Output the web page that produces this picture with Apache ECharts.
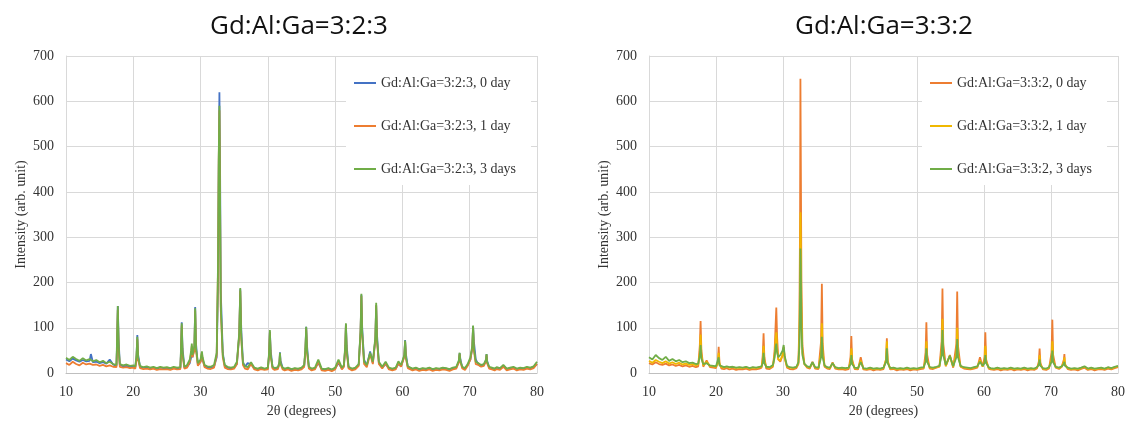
<!DOCTYPE html>
<html>
<head>
<meta charset="utf-8">
<script src="https://cdn.jsdelivr.net/npm/echarts@6/dist/echarts.min.js"></script>
<style>
html,body{margin:0;padding:0;background:#fff;}
#c{width:1128px;height:423px;}
</style>
</head>
<body>
<div id="c"></div>
<script>
// ---------- Left chart: Gd:Al:Ga=3:2:3 ----------
const LX = [
  10, 10.5, 11, 11.5, 12, 12.5, 13, 13.5, 13.7, 14,
  14.5, 15, 15.5, 16, 16.5, 17, 17.5,
  17.58, 17.7, 17.82, 18, 18.5, 19, 19.5, 20, 20.3,
  20.48, 20.6, 20.72, 21, 21.5, 22, 22.5, 23, 23.5, 24,
  24.5, 25, 25.5, 26, 26.5, 27,
  27.08, 27.2, 27.32, 27.6, 28, 28.4, 28.6, 28.7, 28.8,
  29.08, 29.2, 29.32, 29.6, 30, 30.1, 30.2, 30.3, 30.6, 31,
  31.5, 32, 32.4, 32.6, 32.7, 32.8, 32.9, 33, 33.3, 33.6,
  34, 34.5, 35, 35.4, 35.75, 35.9, 36.05, 36.3, 36.6, 37,
  37.5, 38, 38.5, 39, 39.5, 40, 40.18, 40.3, 40.42, 40.7,
  41, 41.5, 41.72, 41.8, 41.88, 42.2, 42.5, 43, 43.5, 44,
  44.5, 45, 45.4, 45.58, 45.7, 45.82, 46.1, 46.5, 47, 47.5,
  48, 48.5, 49, 49.5, 50, 50.5, 51, 51.3, 51.5, 51.6,
  51.72, 52, 52.5, 53, 53.5, 53.78, 53.9, 54.02, 54.3, 54.7,
  55.2, 55.6, 55.98, 56.1, 56.22, 56.5, 57, 57.5, 58, 58.5,
  59, 59.4, 59.8, 60.28, 60.4, 60.52, 60.8, 61, 61.5, 62,
  62.5, 63, 63.5, 64, 64.5, 65, 65.5, 66, 66.5, 67,
  67.5, 68, 68.38, 68.5, 68.62, 68.9, 69.3, 69.7, 70.1, 70.38,
  70.5, 70.62, 70.9, 71.3, 71.7, 72.1, 72.42, 72.5, 72.58, 72.9,
  73.3, 73.7, 74, 74.5, 75, 75.5, 76, 76.5, 77, 77.5,
  78, 78.5, 79, 79.5, 80
];
const L_DAY0 = [
  30, 26, 32, 28, 25, 29, 26, 27, 42, 24,
  25, 22, 24, 21, 30, 19, 16,
  60, 148, 75, 18, 15, 16, 14, 15, 13,
  35, 84, 40, 14, 12, 13, 11, 12, 10, 12,
  11, 11, 10, 12, 10, 12,
  45, 112, 55, 12, 14, 22, 35, 45, 35,
  55, 146, 65, 18, 25, 32, 38, 30, 15, 12,
  12, 14, 35, 200, 450, 620, 450, 180, 45, 15,
  12, 10, 12, 20, 85, 185, 95, 25, 14, 22,
  20, 10, 9, 11, 9, 10, 40, 92, 50, 12,
  10, 11, 22, 46, 28, 11, 9, 10, 8, 10,
  9, 10, 15, 50, 102, 60, 12, 9, 10, 22,
  9, 8, 10, 7, 10, 22, 10, 15, 55, 108,
  60, 12, 9, 10, 18, 90, 173, 100, 30, 16,
  48, 22, 75, 150, 85, 22, 12, 20, 10, 9,
  10, 20, 15, 38, 73, 42, 14, 10, 9, 11,
  8, 10, 9, 11, 8, 10, 9, 11, 10, 8,
  11, 12, 25, 44, 30, 12, 10, 18, 30, 55,
  104, 70, 30, 18, 15, 18, 28, 42, 28, 12,
  11, 9, 12, 10, 16, 9, 11, 12, 9, 11,
  10, 12, 11, 13, 20
];
const L_DAY1 = [
  22, 18, 25, 20, 17, 23, 19, 21, 20, 18,
  19, 16, 18, 15, 17, 14, 13,
  55, 140, 55, 14, 12, 13, 11, 12, 10,
  30, 75, 30, 11, 9, 10, 8, 10, 7, 9,
  8, 9, 7, 10, 8, 9,
  40, 105, 40, 10, 12, 25, 45, 60, 35,
  50, 138, 50, 16, 25, 35, 45, 30, 13, 10,
  9, 12, 40, 240, 470, 580, 370, 140, 35, 12,
  9, 8, 10, 20, 85, 182, 75, 18, 10, 8,
  20, 8, 6, 9, 7, 8, 40, 90, 38, 10,
  7, 9, 22, 42, 20, 8, 6, 8, 5, 7,
  6, 8, 14, 50, 98, 45, 10, 6, 8, 25,
  6, 5, 7, 4, 8, 26, 8, 14, 55, 105,
  45, 10, 6, 8, 16, 90, 170, 85, 20, 13,
  42, 20, 75, 150, 70, 20, 10, 22, 8, 6,
  8, 22, 14, 36, 70, 32, 11, 7, 6, 8,
  5, 7, 6, 8, 5, 7, 6, 8, 7, 5,
  8, 10, 24, 42, 24, 10, 7, 16, 30, 55,
  100, 50, 20, 18, 14, 16, 26, 40, 22, 10,
  8, 6, 9, 7, 14, 6, 8, 10, 6, 8,
  7, 10, 8, 11, 20
];
const L_DAY3 = [
  34, 29, 36, 31, 27, 33, 28, 31, 30, 26,
  29, 24, 27, 22, 25, 20, 18,
  70, 148, 60, 20, 17, 19, 16, 17, 15,
  40, 80, 35, 16, 13, 15, 12, 14, 11, 14,
  12, 13, 11, 14, 12, 13,
  50, 110, 45, 14, 18, 30, 50, 65, 40,
  60, 143, 55, 22, 30, 40, 48, 35, 18, 15,
  14, 18, 45, 250, 480, 590, 380, 150, 40, 18,
  14, 12, 14, 25, 90, 188, 80, 22, 15, 13,
  24, 12, 10, 13, 10, 12, 45, 95, 40, 14,
  11, 13, 25, 45, 22, 12, 10, 12, 9, 11,
  10, 12, 18, 55, 102, 50, 14, 10, 12, 30,
  10, 9, 11, 8, 12, 30, 12, 18, 60, 110,
  50, 14, 10, 12, 20, 95, 175, 90, 25, 18,
  45, 25, 80, 155, 75, 25, 14, 25, 12, 10,
  12, 26, 18, 40, 72, 35, 15, 11, 10, 12,
  9, 11, 10, 12, 9, 11, 10, 12, 11, 9,
  12, 14, 28, 45, 26, 14, 11, 20, 35, 60,
  105, 55, 25, 22, 18, 20, 30, 42, 25, 14,
  12, 10, 13, 11, 18, 10, 12, 14, 10, 12,
  11, 14, 12, 15, 25
];

// ---------- Right chart: Gd:Al:Ga=3:3:2 ----------
const RX = [
  10, 10.5, 11, 11.5, 12, 12.5, 13, 13.5, 14, 14.5,
  15, 15.5, 16, 16.5, 17, 17.35, 17.58, 17.7, 17.82, 18.1,
  18.6, 19.1, 19.6, 20.0, 20.28, 20.4, 20.52, 20.8, 21.2, 21.6,
  22, 22.5, 23, 23.5, 24, 24.5, 25, 25.5, 26, 26.5,
  26.8, 26.98, 27.1, 27.22, 27.5, 28, 28.5, 28.75, 28.88, 29.0,
  29.12, 29.3, 29.6, 29.95, 30.1, 30.25, 30.6, 31, 31.5, 32,
  32.3, 32.45, 32.55, 32.6, 32.65, 32.75, 32.9, 33.2, 33.6, 34,
  34.4, 34.8, 35.3, 35.68, 35.8, 35.92, 36.2, 36.6, 37, 37.4,
  37.8, 38.3, 38.8, 39.3, 39.8, 40.08, 40.2, 40.32, 40.7, 41.2,
  41.6, 42, 42.5, 43, 43.5, 44, 44.5, 45, 45.38, 45.5,
  45.62, 46, 46.5, 47, 47.5, 48, 48.5, 49, 49.5, 50,
  50.5, 51, 51.28, 51.4, 51.52, 51.9, 52.4, 52.9, 53.35, 53.68,
  53.8, 53.92, 54.3, 54.9, 55.4, 55.88, 56.0, 56.12, 56.5, 57,
  57.5, 58, 58.5, 59, 59.4, 59.8, 60.08, 60.2, 60.32, 60.7,
  61, 61.5, 62, 62.5, 63, 63.5, 64, 64.5, 65, 65.5,
  66, 66.5, 67, 67.5, 67.9, 68.18, 68.3, 68.42, 68.8, 69.3,
  69.7, 70.08, 70.2, 70.32, 70.7, 71.2, 71.6, 71.92, 72.0, 72.08,
  72.5, 73, 73.5, 74, 74.5, 75, 75.5, 76, 76.5, 77,
  77.5, 78, 78.5, 79, 79.5, 80
];
const R_DAY0 = [
  22, 19, 24, 20, 18, 21, 17, 19, 16, 18,
  15, 17, 14, 16, 13, 15, 60, 115, 50, 14,
  28, 13, 12, 11, 25, 58, 22, 10, 9, 11,
  8, 10, 7, 9, 8, 10, 7, 9, 8, 10,
  12, 40, 88, 35, 10, 9, 14, 50, 100, 145,
  80, 30, 25, 40, 58, 35, 12, 9, 8, 11,
  20, 120, 350, 650, 500, 200, 60, 20, 12, 10,
  25, 10, 9, 70, 197, 65, 14, 10, 9, 24,
  10, 8, 9, 7, 9, 35, 82, 30, 9, 8,
  35, 8, 7, 9, 6, 8, 7, 9, 30, 77,
  28, 8, 9, 6, 8, 7, 9, 6, 8, 7,
  9, 10, 45, 112, 40, 10, 9, 12, 14, 70,
  187, 65, 15, 40, 12, 65, 180, 60, 14, 10,
  9, 8, 10, 12, 35, 14, 35, 90, 30, 10,
  8, 7, 9, 6, 8, 7, 9, 6, 8, 7,
  9, 6, 8, 7, 10, 25, 54, 22, 8, 7,
  10, 45, 118, 40, 12, 9, 14, 30, 42, 20,
  9, 7, 8, 6, 9, 12, 7, 9, 6, 8,
  9, 7, 10, 8, 11, 13
];
const R_DAY1 = [
  27, 23, 29, 25, 22, 26, 21, 24, 20, 23,
  19, 21, 18, 20, 17, 19, 45, 85, 40, 17,
  25, 16, 15, 14, 22, 45, 20, 13, 12, 14,
  12, 13, 11, 12, 11, 13, 10, 12, 11, 13,
  14, 30, 60, 28, 13, 12, 16, 40, 70, 90,
  55, 30, 28, 40, 55, 32, 14, 12, 11, 13,
  22, 80, 220, 355, 300, 130, 45, 20, 14, 12,
  22, 12, 11, 45, 110, 45, 16, 12, 11, 22,
  12, 10, 11, 10, 11, 25, 55, 25, 11, 10,
  28, 10, 9, 11, 9, 10, 9, 11, 30, 70,
  25, 10, 11, 9, 10, 9, 11, 9, 10, 9,
  11, 12, 30, 70, 28, 12, 11, 13, 15, 50,
  120, 45, 16, 38, 14, 45, 100, 42, 15, 12,
  11, 10, 12, 14, 28, 15, 25, 60, 25, 12,
  10, 9, 11, 9, 10, 9, 11, 9, 10, 9,
  11, 9, 10, 9, 12, 20, 40, 18, 10, 9,
  12, 30, 70, 28, 13, 11, 14, 25, 35, 18,
  11, 9, 10, 9, 11, 14, 9, 11, 9, 10,
  11, 9, 12, 10, 13, 15
];
const R_DAY3 = [
  35, 30, 40, 33, 29, 36, 27, 31, 26, 29,
  24, 26, 22, 23, 20, 21, 38, 62, 32, 20,
  22, 17, 16, 15, 18, 35, 17, 14, 13, 15,
  13, 14, 12, 13, 12, 14, 11, 13, 12, 14,
  15, 22, 45, 22, 14, 13, 18, 35, 55, 65,
  45, 35, 40, 50, 62, 38, 16, 13, 12, 14,
  24, 60, 170, 275, 240, 100, 40, 20, 15, 13,
  24, 13, 12, 35, 80, 35, 17, 13, 12, 22,
  13, 11, 12, 11, 12, 20, 40, 20, 12, 11,
  24, 11, 10, 12, 10, 11, 10, 12, 25, 55,
  22, 11, 12, 10, 11, 10, 12, 10, 11, 10,
  12, 13, 25, 55, 25, 13, 12, 14, 16, 40,
  95, 40, 18, 38, 15, 35, 75, 35, 16, 13,
  12, 11, 13, 15, 25, 16, 22, 40, 22, 13,
  11, 10, 12, 10, 11, 10, 12, 10, 11, 10,
  12, 10, 11, 10, 13, 18, 30, 16, 11, 10,
  13, 25, 50, 24, 14, 12, 15, 20, 25, 16,
  12, 10, 11, 10, 12, 15, 10, 12, 10, 11,
  12, 10, 13, 11, 14, 16
];

const TITLES = ['Gd:Al:Ga=3:2:3', 'Gd:Al:Ga=3:3:2'];
const LEFT_NAMES = ['Gd:Al:Ga=3:2:3, 0 day', 'Gd:Al:Ga=3:2:3, 1 day', 'Gd:Al:Ga=3:2:3, 3 days'];
const RIGHT_NAMES = ['Gd:Al:Ga=3:3:2, 0 day', 'Gd:Al:Ga=3:3:2, 1 day', 'Gd:Al:Ga=3:3:2, 3 days'];
const X_NAME = '2θ (degrees)';
const Y_NAME = 'Intensity (arb. unit)';
const X_MIN = 10, X_MAX = 80, X_STEP = 10;
const Y_MIN = 0, Y_MAX = 700, Y_STEP = 100;

function pairs(xs, ys) {
  if (xs.length !== ys.length) throw new Error('length mismatch ' + xs.length + ' vs ' + ys.length);
  return xs.map((x, i) => [x, ys[i]]);
}

const SERIF = '"Liberation Serif", "Times New Roman", serif';
const SANS = '"Open Sans", "Noto Sans", sans-serif';
const gridColor = '#d9d9d9';

function xAxis(gi) {
  return {
    type: 'value', gridIndex: gi, min: X_MIN, max: X_MAX, interval: X_STEP,
    name: X_NAME, nameLocation: 'middle', nameGap: 30,
    nameTextStyle: { fontFamily: SERIF, fontSize: 14, color: '#333' },
    axisLine: { show: true, lineStyle: { color: '#bfbfbf' } },
    axisTick: { show: false },
    axisLabel: { fontFamily: SERIF, fontSize: 14, color: '#333', margin: 12 },
    splitLine: { show: true, lineStyle: { color: gridColor } }
  };
}
function yAxis(gi) {
  return {
    type: 'value', gridIndex: gi, min: Y_MIN, max: Y_MAX, interval: Y_STEP,
    name: Y_NAME, nameLocation: 'middle', nameGap: 38,
    nameTextStyle: { fontFamily: SERIF, fontSize: 14, color: '#333' },
    axisLine: { show: true, lineStyle: { color: gridColor } },
    axisTick: { show: false },
    axisLabel: { fontFamily: SERIF, fontSize: 14, color: '#333', margin: 12 },
    splitLine: { show: true, lineStyle: { color: gridColor } }
  };
}
function line(name, gi, xs, ys, color) {
  return {
    name, type: 'line', xAxisIndex: gi, yAxisIndex: gi, symbol: 'none',
    data: pairs(xs, ys), lineStyle: { width: 1.8, color }, itemStyle: { color },
    animation: false, z: 2
  };
}
function legend(left, names) {
  return {
    orient: 'vertical', left, top: 57, data: names,
    icon: 'rect',
    backgroundColor: '#fff', padding: [19, 15, 9, 8],
    itemWidth: 22, itemHeight: 2, itemGap: 29,
    textStyle: { fontFamily: SERIF, fontSize: 14, color: '#333', lineHeight: 14 }
  };
}

const chart = echarts.init(document.getElementById('c'), null, { renderer: 'canvas' });
chart.setOption({
  animation: false,
  backgroundColor: '#fff',
  title: [
    { text: TITLES[0], left: 294, top: 9, textAlign: 'center',
      textStyle: { fontFamily: SANS, fontSize: 26, fontWeight: 'normal', color: '#111' } },
    { text: TITLES[1], left: 879, top: 9, textAlign: 'center',
      textStyle: { fontFamily: SANS, fontSize: 26, fontWeight: 'normal', color: '#111' } }
  ],
  grid: [
    { left: 66, top: 56, width: 471, height: 319 },
    { left: 649, top: 56, width: 472, height: 319 }
  ],
  xAxis: [xAxis(0), xAxis(1)],
  yAxis: [yAxis(0), yAxis(1)],
  legend: [legend(346, LEFT_NAMES), legend(922, RIGHT_NAMES)],
  series: [
    line(LEFT_NAMES[0], 0, LX, L_DAY0, '#4472C4'),
    line(LEFT_NAMES[1], 0, LX, L_DAY1, '#ED7D31'),
    line(LEFT_NAMES[2], 0, LX, L_DAY3, '#70AD47'),
    line(RIGHT_NAMES[0], 1, RX, R_DAY0, '#ED7D31'),
    line(RIGHT_NAMES[1], 1, RX, R_DAY1, '#F0B800'),
    line(RIGHT_NAMES[2], 1, RX, R_DAY3, '#70AD47')
  ]
});
</script>
</body>
</html>
